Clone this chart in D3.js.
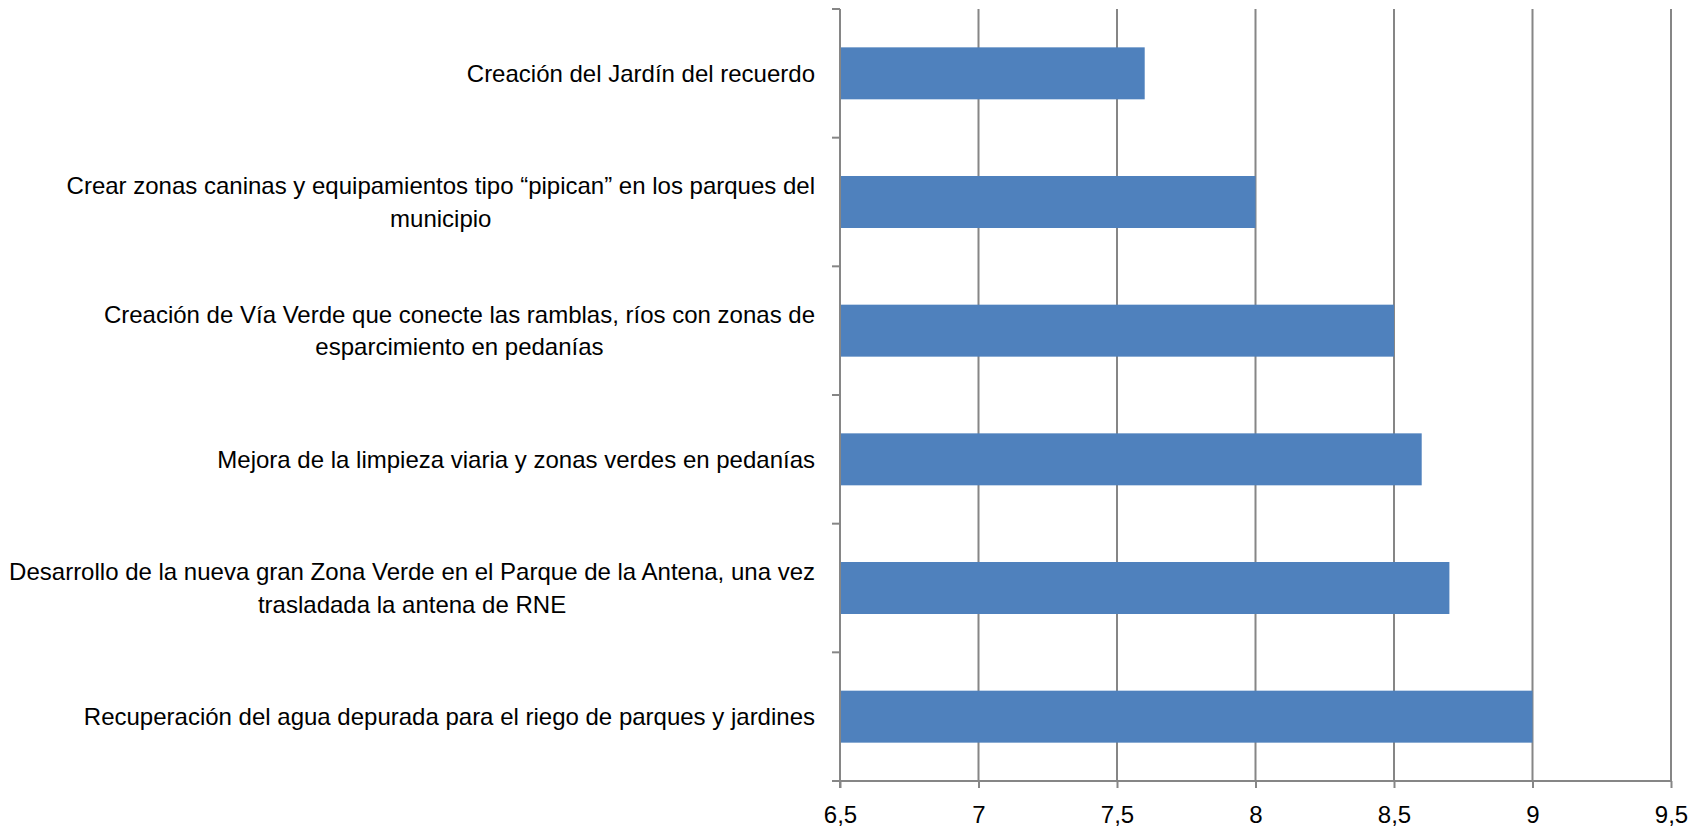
<!DOCTYPE html>
<html>
<head>
<meta charset="utf-8">
<script src="https://cdnjs.cloudflare.com/ajax/libs/d3/7.8.5/d3.min.js"></script>
<style>
  html, body { margin: 0; padding: 0; background: #fff; }
  svg { display: block; }
  text { font-family: "Liberation Sans", Arial, sans-serif; fill: #000; }
</style>
</head>
<body>
<script>
// categories, top to bottom (each entry = wrapped lines)
let categories = [
  ['Creación del Jardín del recuerdo'],
  ['Crear zonas caninas y equipamientos tipo “pipican” en los parques del', 'municipio'],
  ['Creación de Vía Verde que conecte las ramblas, ríos con zonas de', 'esparcimiento en pedanías'],
  ['Mejora de la limpieza viaria y zonas verdes en pedanías'],
  ['Desarrollo de la nueva gran Zona Verde en el Parque de la Antena, una vez', 'trasladada la antena de RNE'],
  ['Recuperación del agua depurada para el riego de parques y jardines']
]
let values = [7.6, 8.0, 8.5, 8.6, 8.7, 9.0]
let xTicks = [6.5, 7, 7.5, 8, 8.5, 9, 9.5]
let xTickLabels = ['6,5', '7', '7,5', '8', '8,5', '9', '9,5']

let width = 1705
let height = 832
let plotLeft = 840
let plotRight = 1671
let plotTop = 9
let plotBottom = 781
let labelRight = 815
let lineHeight = 32.6
let gridColor = '#868686'
let barColor = '#4F81BD'

let svg = d3.select('body').append('svg')
  .attr('width', width)
  .attr('height', height)

let xScale = d3.scaleLinear()
  .domain([6.5, 9.5])
  .range([plotLeft, plotRight])

let yScale = d3.scaleBand()
  .domain(d3.range(categories.length))
  .range([plotTop, plotBottom])
  .paddingInner(0.596)
  .paddingOuter(0.298)

// vertical gridlines
svg.append('g')
  .selectAll('line')
  .data(xTicks.slice(1))
  .enter()
  .append('line')
  .attr('x1', d => xScale(d))
  .attr('x2', d => xScale(d))
  .attr('y1', plotTop)
  .attr('y2', plotBottom)
  .attr('stroke', gridColor)
  .attr('stroke-width', 2)

// bars
svg.append('g')
  .selectAll('rect')
  .data(values)
  .enter()
  .append('rect')
  .attr('x', xScale(6.5))
  .attr('y', (d, i) => yScale(i))
  .attr('width', d => xScale(d) - xScale(6.5))
  .attr('height', yScale.bandwidth())
  .attr('fill', barColor)

// x axis
let xAxis = d3.axisBottom(xScale)
  .tickValues(xTicks)
  .tickSize(7)
  .tickSizeOuter(0)
  .tickPadding(18)
  .tickFormat((d, i) => xTickLabels[i])

let gx = svg.append('g')
  .attr('transform', 'translate(0,' + plotBottom + ')')
  .call(xAxis)
gx.select('.domain').attr('stroke', gridColor).attr('stroke-width', 2)
  .attr('d', 'M' + (plotLeft - 8) + ',0H' + plotRight)
gx.selectAll('.tick line').attr('stroke', gridColor).attr('stroke-width', 2)
gx.selectAll('.tick text')
  .style('font-family', '"Liberation Sans", Arial, sans-serif')
  .style('font-size', '24px')
  .attr('fill', '#000')

// y axis line + tick marks on band boundaries
let step = yScale.step()
let boundaries = d3.range(categories.length + 1).map(i => plotTop + i * step)
svg.append('line')
  .attr('x1', plotLeft).attr('x2', plotLeft)
  .attr('y1', plotTop).attr('y2', plotBottom + 7)
  .attr('stroke', gridColor).attr('stroke-width', 2)
svg.append('g')
  .selectAll('line')
  .data(boundaries)
  .enter()
  .append('line')
  .attr('x1', plotLeft - 8)
  .attr('x2', plotLeft)
  .attr('y1', d => d)
  .attr('y2', d => d)
  .attr('stroke', gridColor)
  .attr('stroke-width', 2)

// category labels, right aligned block, lines centred
let labels = svg.append('g')
categories.forEach((lines, i) => {
  let cy = yScale(i) + yScale.bandwidth() / 2
  let g = labels.append('g')
  let texts = lines.map((line, j) => g.append('text')
    .attr('y', cy + (j - (lines.length - 1) / 2) * lineHeight)
    .attr('dy', '0.35em')
    .attr('text-anchor', 'middle')
    .style('font-size', '24px')
    .text(line))
  let blockW = d3.max(texts, t => t.node().getComputedTextLength())
  texts.forEach(t => t.attr('x', labelRight - blockW / 2))
})
</script>
</body>
</html>
